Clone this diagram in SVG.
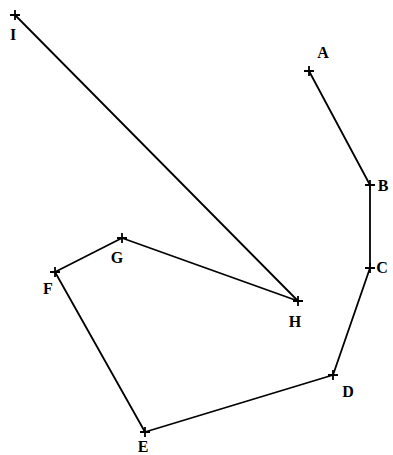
<svg xmlns="http://www.w3.org/2000/svg" width="393" height="455" viewBox="0 0 393 455">
<style>
.e{stroke:#000;stroke-width:1.8;fill:none;stroke-linecap:round;stroke-linejoin:round}
.x{stroke:#000;stroke-width:1.8;fill:none}
.t{font-family:"Liberation Serif","DejaVu Serif",serif;font-size:16px;font-weight:bold;fill:#000;text-anchor:middle}
</style>
<rect width="393" height="455" fill="#fff"/>
<g id="connectors">
<path class="e" d="M15 15 L298 301"/>
<path class="e" d="M309 71 L370 185 L370 268 L333 375 L145 432 L55 272 L122 238 L298 301"/>
</g>
<g id="node-I"><path class="x" d="M10 15h10M15 10v10"/><text class="t" x="13" y="40">I</text></g>
<g id="node-A"><path class="x" d="M304 71h10M309 66v10"/><text class="t" x="323" y="58">A</text></g>
<g id="node-B"><path class="x" d="M365 185h10M370 180v10"/><text class="t" x="383" y="191">B</text></g>
<g id="node-C"><path class="x" d="M365 268h10M370 263v10"/><text class="t" x="382" y="273">C</text></g>
<g id="node-D"><path class="x" d="M328 375h10M333 370v10"/><text class="t" x="348" y="397">D</text></g>
<g id="node-E"><path class="x" d="M140 432h10M145 427v10"/><text class="t" x="143" y="452">E</text></g>
<g id="node-F"><path class="x" d="M50 272h10M55 267v10"/><text class="t" x="48" y="294">F</text></g>
<g id="node-G"><path class="x" d="M117 238h10M122 233v10"/><text class="t" x="117" y="263">G</text></g>
<g id="node-H"><path class="x" d="M293 301h10M298 296v10"/><text class="t" x="295" y="327">H</text></g>
</svg>
